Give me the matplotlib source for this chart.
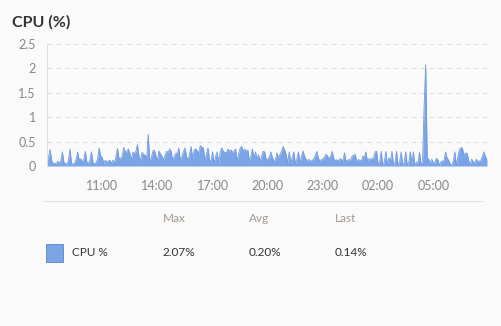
import matplotlib.pyplot as plt
import matplotlib.dates as mdates
import numpy as np
import pandas as pd

plt.rcParams["font.family"] = ["Lato", "DejaVu Sans"]

# CPU usage, 5-minute samples from 08:00, one row per hour
cpu_pct = [
    0.12, 0.18, 0.34, 0.12, 0.05, 0.06, 0.04, 0.10, 0.06, 0.10, 0.29, 0.08,
    0.05, 0.04, 0.12, 0.35, 0.05, 0.04, 0.06, 0.14, 0.29, 0.12, 0.15, 0.08,
    0.14, 0.30, 0.08, 0.05, 0.12, 0.29, 0.06, 0.05, 0.06, 0.15, 0.37, 0.20,
    0.18, 0.05, 0.12, 0.08, 0.10, 0.12, 0.05, 0.12, 0.06, 0.20, 0.36, 0.15,
    0.15, 0.20, 0.38, 0.30, 0.28, 0.35, 0.27, 0.13, 0.28, 0.26, 0.30, 0.44,
    0.20, 0.10, 0.28, 0.24, 0.22, 0.15, 0.65, 0.13, 0.16, 0.30, 0.33, 0.22,
    0.10, 0.31, 0.25, 0.20, 0.12, 0.22, 0.30, 0.28, 0.35, 0.30, 0.10, 0.20,
    0.26, 0.25, 0.37, 0.10, 0.20, 0.30, 0.37, 0.20, 0.10, 0.25, 0.40, 0.15,
    0.33, 0.35, 0.31, 0.27, 0.42, 0.38, 0.37, 0.10, 0.25, 0.37, 0.12, 0.10,
    0.29, 0.06, 0.20, 0.29, 0.05, 0.29, 0.37, 0.30, 0.28, 0.27, 0.35, 0.30,
    0.33, 0.28, 0.30, 0.35, 0.10, 0.25, 0.37, 0.40, 0.30, 0.35, 0.29, 0.33,
    0.10, 0.20, 0.35, 0.16, 0.29, 0.15, 0.23, 0.10, 0.20, 0.30, 0.29, 0.13,
    0.14, 0.18, 0.29, 0.18, 0.10, 0.13, 0.27, 0.16, 0.24, 0.30, 0.40, 0.33,
    0.23, 0.06, 0.29, 0.06, 0.18, 0.29, 0.04, 0.15, 0.29, 0.06, 0.20, 0.31,
    0.20, 0.13, 0.12, 0.13, 0.10, 0.11, 0.15, 0.22, 0.30, 0.16, 0.10, 0.13,
    0.15, 0.18, 0.24, 0.20, 0.15, 0.20, 0.30, 0.16, 0.10, 0.13, 0.10, 0.15,
    0.14, 0.10, 0.27, 0.10, 0.12, 0.13, 0.12, 0.20, 0.22, 0.24, 0.10, 0.13,
    0.12, 0.10, 0.20, 0.18, 0.29, 0.10, 0.15, 0.14, 0.15, 0.16, 0.29, 0.30,
    0.01, 0.10, 0.30, 0.01, 0.08, 0.30, 0.02, 0.17, 0.10, 0.30, 0.01, 0.08,
    0.30, 0.01, 0.08, 0.29, 0.01, 0.08, 0.29, 0.01, 0.08, 0.29, 0.05, 0.29,
    0.01, 0.08, 0.08, 0.28, 0.01, 0.12, 1.24, 2.07, 0.16, 0.14, 0.05, 0.14,
    0.05, 0.08, 0.16, 0.12, 0.01, 0.09, 0.10, 0.12, 0.29, 0.16, 0.12, 0.04,
    0.01, 0.10, 0.29, 0.01, 0.20, 0.33, 0.38, 0.36, 0.22, 0.27, 0.26, 0.12,
    0.02, 0.14, 0.09, 0.05, 0.14, 0.09, 0.10, 0.12, 0.20, 0.29, 0.19, 0.14,
]
times = pd.date_range("2024-01-01 08:00", periods=len(cpu_pct), freq="5min")

series_name = "CPU %"
stat_names = ["Max", "Avg", "Last"]
stat_values = ["2.07%", "0.20%", "0.14%"]

fill_color = "#7ba4e6"
bg = "#fafafa"

fig = plt.figure(figsize=(5.02, 3.26), dpi=100, facecolor=bg)
ax = fig.add_axes([47 / 502, 1 - 166 / 326, 440 / 502, 122 / 326], facecolor=bg)

ax.fill_between(times, 0, cpu_pct, color=fill_color, lw=0)
ax.plot(times, cpu_pct, color="#6f9ae2", lw=0.6)

ax.set_xlim(times[0], times[-1])
ax.set_ylim(0, 2.5)
ax.set_yticks([0, 0.5, 1, 1.5, 2, 2.5])
ax.set_yticklabels(["0", "0.5", "1", "1.5", "2", "2.5"])
ax.xaxis.set_major_locator(mdates.HourLocator(byhour=[2, 5, 11, 14, 17, 20, 23]))
ax.xaxis.set_major_formatter(mdates.DateFormatter("%H:%M"))

ax.grid(axis="y", color="#dedede", lw=0.8, ls=(0, (4, 4)))
ax.set_axisbelow(True)
for side in ["top", "right", "bottom"]:
    ax.spines[side].set_visible(False)
ax.spines["left"].set_color("#dddddd")
ax.tick_params(length=0, colors="#888888", labelsize=9)
ax.tick_params(axis="y", pad=8)
ax.tick_params(axis="x", pad=10)

fig.text(12 / 502, 1 - 22 / 326, "CPU (%)", fontsize=11.5, fontweight="bold",
         color="#333333", va="center", ha="left")

# legend table under the chart
fig.add_artist(plt.Line2D([44 / 502, 482 / 502], [1 - 201 / 326] * 2,
                          color="#e2e2e2", lw=0.8))
stat_x = [163, 249, 335]
for x, name, val in zip(stat_x, stat_names, stat_values):
    fig.text(x / 502, 1 - 218 / 326, name, fontsize=8.5, color="#a39a90",
             va="center", ha="left")
    fig.text(x / 502, 1 - 253 / 326, val, fontsize=8.5, color="#333333",
             va="center", ha="left")
fig.add_artist(plt.Rectangle((46 / 502, 1 - 262 / 326), 17 / 502, 18 / 326,
                             facecolor=fill_color, edgecolor="#5b86cf", lw=0.6))
fig.text(72 / 502, 1 - 253 / 326, series_name, fontsize=8.5, color="#333333",
         va="center", ha="left")

fig.savefig("out.png", dpi=100, facecolor=bg)
